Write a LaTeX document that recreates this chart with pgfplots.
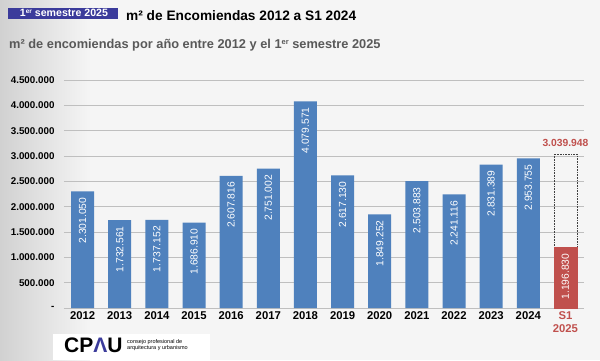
\documentclass[border=0pt]{standalone}
\usepackage{pgfplots}
\pgfplotsset{compat=1.18}
\usepackage{fontspec}
\setmainfont{Liberation Sans}
\definecolor{barblue}{HTML}{4F81BD}
\definecolor{barred}{HTML}{C0504D}
\definecolor{boxblue}{HTML}{3B3B9B}
\definecolor{subgray}{HTML}{595959}
\definecolor{gridgray}{HTML}{BFBFBF}
\newcommand{\supx}[1]{{\fontsize{6.5}{7}\selectfont\raisebox{0.42em}{#1}}}
\begin{document}
\begin{tikzpicture}[x=1pt,y=1pt]
\useasboundingbox (0,0) rectangle (600,360);
\fill[black!4] (0,0) rectangle (600,360);
\shade[left color=black!18, right color=black!4] (0,0) rectangle (90,360);
% header
\fill[boxblue] (8,341.5) rectangle (118,352);
\node[text=white, font=\bfseries\fontsize{10.6}{12}\selectfont, inner sep=0pt] at (64,347) {1\supx{er} semestre 2025};
\node[anchor=west, inner sep=0pt, font=\bfseries\fontsize{13.7}{16}\selectfont] at (126,344) {m² de Encomiendas 2012 a S1 2024};
\node[anchor=west, inner sep=0pt, text=subgray, font=\bfseries\fontsize{12.8}{15}\selectfont] at (9,315) {m² de encomiendas por año entre 2012 y el 1{\fontsize{7.5}{8}\selectfont\raisebox{0.45em}{er}} semestre 2025};
% logo
\fill[white] (53,0) rectangle (210,26);
\node[anchor=west, inner sep=0pt, font=\bfseries\fontsize{21}{22}\selectfont] at (64,15) {CP{\color{boxblue}Λ}U};
\node[anchor=west, inner sep=0pt, align=left, font=\fontsize{5.5}{6.2}\selectfont] at (127,15) {consejo profesional de\\arquitectura y urbanismo};
\begin{axis}[
  at={(64pt,52pt)}, anchor=south west,
  scale only axis, width=520pt, height=228pt,
  xmin=-0.5, xmax=13.5, ymin=0, ymax=4500000,
  axis x line*=bottom, axis y line*=left,
  y axis line style={draw=none},
  x axis line style={draw=gridgray, line width=0.8pt, -},
  xtick={0,...,13},
  xticklabels={2012,2013,2014,2015,2016,2017,2018,2019,2020,2021,2022,2023,2024,{\textcolor{barred}{S1}\\\textcolor{barred}{2025}}},
  xticklabel style={font=\bfseries\fontsize{11.3}{13}\selectfont, align=center},
  major x tick style={draw=none},
  extra x ticks={-0.5,0.5,...,13.5},
  extra x tick labels={},
  extra x tick style={tick align=outside, major tick length=4pt, tick style={draw=gridgray, line width=0.8pt}, grid=none},
  ytick={0,500000,...,4500000},
  yticklabels={-,500.000,1.000.000,1.500.000,2.000.000,2.500.000,3.000.000,3.500.000,4.000.000,4.500.000},
  yticklabel style={font=\bfseries\fontsize{9.8}{11}\selectfont, xshift=-6pt},
  major y tick style={draw=none},
  scaled y ticks=false,
  ymajorgrids, grid style={draw=gridgray, line width=0.8pt},
  clip=false,
]
\addplot[ybar, bar shift=0pt, bar width=23pt, fill=none, draw=black!75, densely dotted, line width=0.6pt,
  point meta=explicit symbolic, nodes near coords,
  nodes near coords style={solid, text=barred, font=\bfseries\fontsize{10.3}{12}\selectfont, anchor=south, yshift=4pt}]
  coordinates {(13,3039948) [3.039.948]};
\addplot[ybar, bar shift=0pt, bar width=23pt, fill=barblue, draw=none,
  point meta=explicit symbolic, nodes near coords,
  nodes near coords style={rotate=90, anchor=east, text=white, inner xsep=6pt, font=\fontsize{10.3}{12}\selectfont}]
  coordinates {
  (0,2301050) [2.301.050]
  (1,1732561) [1.732.561]
  (2,1737152) [1.737.152]
  (3,1686910) [1.686.910]
  (4,2607816) [2.607.816]
  (5,2751002) [2.751.002]
  (6,4079571) [4.079.571]
  (7,2617130) [2.617.130]
  (8,1849252) [1.849.252]
  (9,2503883) [2.503.883]
  (10,2241116) [2.241.116]
  (11,2831389) [2.831.389]
  (12,2953755) [2.953.755]
  };
\addplot[ybar, bar shift=0pt, bar width=23pt, fill=barred, draw=barred, line width=0.6pt,
  point meta=explicit symbolic, nodes near coords,
  nodes near coords style={rotate=90, anchor=east, text=white, inner xsep=6pt, font=\fontsize{10.3}{12}\selectfont}]
  coordinates {(13,1196830) [1.196.830]};
\end{axis}
\end{tikzpicture}
\end{document}
